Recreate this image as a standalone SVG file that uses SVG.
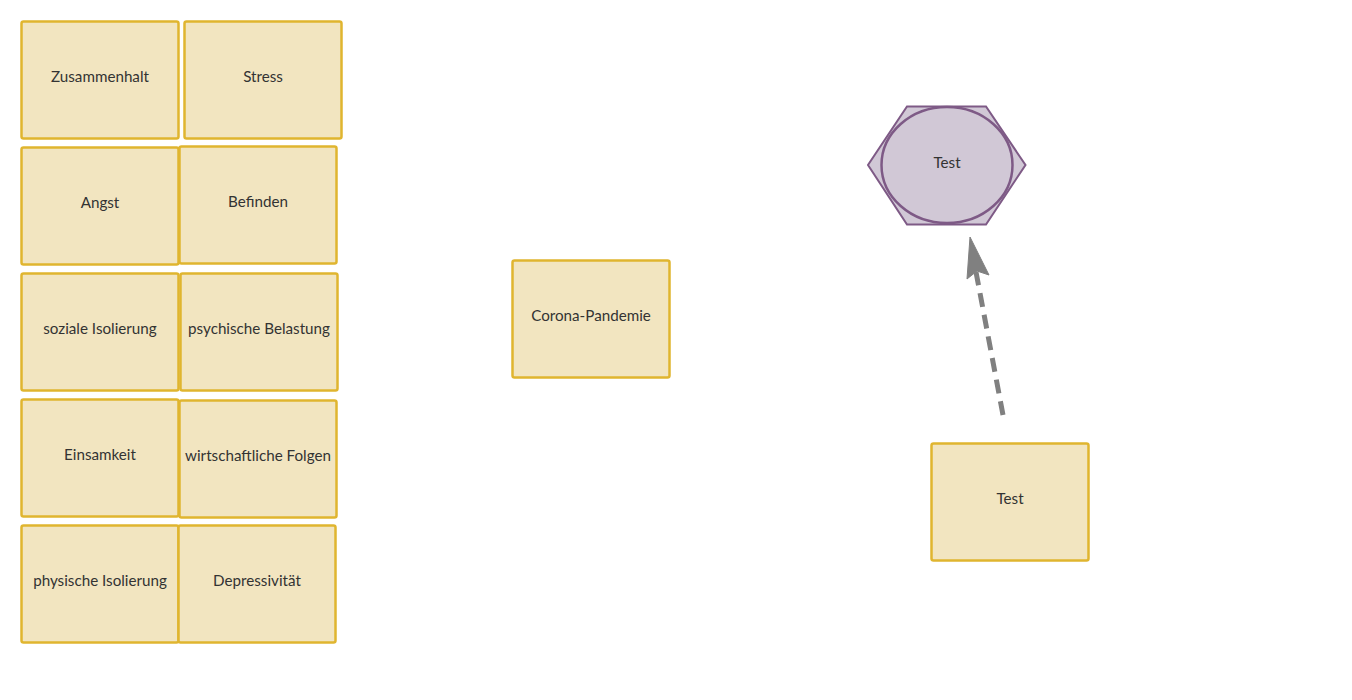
<svg xmlns="http://www.w3.org/2000/svg" width="1352" height="700" viewBox="0 0 1352 700">
<style>
.box{fill:#F2E5C0;stroke:#E0B52F;stroke-width:2.5}
.t{font-family:Lato,"Open Sans","Liberation Sans",sans-serif;font-size:15.2px;fill:#333;text-anchor:middle;dominant-baseline:central}
</style>
<rect width="1352" height="700" fill="#fff"/>
<g id="n1"><rect class="box" x="21.5" y="21.5" width="157" height="117" rx="2"/><text class="t" x="100" y="76">Zusammenhalt</text></g>
<g id="n2"><rect class="box" x="184.5" y="21.5" width="157" height="117" rx="2"/><text class="t" x="263" y="76">Stress</text></g>
<g id="n3"><rect class="box" x="21.5" y="147.5" width="157" height="117" rx="2"/><text class="t" x="100" y="202">Angst</text></g>
<g id="n4"><rect class="box" x="179.5" y="146.5" width="157" height="117" rx="2"/><text class="t" x="258" y="201">Befinden</text></g>
<g id="n5"><rect class="box" x="21.5" y="273.5" width="157" height="117" rx="2"/><text class="t" x="100" y="328">soziale Isolierung</text></g>
<g id="n6"><rect class="box" x="180.5" y="273.5" width="157" height="117" rx="2"/><text class="t" x="259" y="328">psychische Belastung</text></g>
<g id="n7"><rect class="box" x="21.5" y="399.5" width="157" height="117" rx="2"/><text class="t" x="100" y="454">Einsamkeit</text></g>
<g id="n8"><rect class="box" x="179.5" y="400.5" width="157" height="117" rx="2"/><text class="t" x="258" y="455">wirtschaftliche Folgen</text></g>
<g id="n9"><rect class="box" x="21.5" y="525.5" width="157" height="117" rx="2"/><text class="t" x="100" y="580">physische Isolierung</text></g>
<g id="n10"><rect class="box" x="178.5" y="525.5" width="157" height="117" rx="2"/><text class="t" x="257" y="580">Depressivität</text></g>
<g id="n11"><rect class="box" x="512.5" y="260.5" width="157" height="117" rx="2"/><text class="t" x="591" y="315">Corona-Pandemie</text></g>
<g id="n12"><rect class="box" x="931.5" y="443.5" width="157" height="117" rx="2"/><text class="t" x="1010" y="498">Test</text></g>
<g id="n13">
<polygon points="907,106.5 986,106.5 1025.5,165 986,224.5 907,224.5 868,165" fill="#D1C8D6" stroke="#7E5A86" stroke-width="2"/>
<ellipse cx="947" cy="165" rx="65.5" ry="58" fill="#D1C8D6" stroke="#7E5A86" stroke-width="2.5"/>
<text class="t" x="947" y="162">Test</text>
</g>
<g id="connectors">
<path d="M1003,415 L976,272" fill="none" stroke="#808080" stroke-width="5" stroke-dasharray="14,8"/>
<polygon points="970,237 989,275 977,271 967,279" fill="#808080" stroke="#808080" stroke-width="1" stroke-linejoin="round"/>
</g>
</svg>
